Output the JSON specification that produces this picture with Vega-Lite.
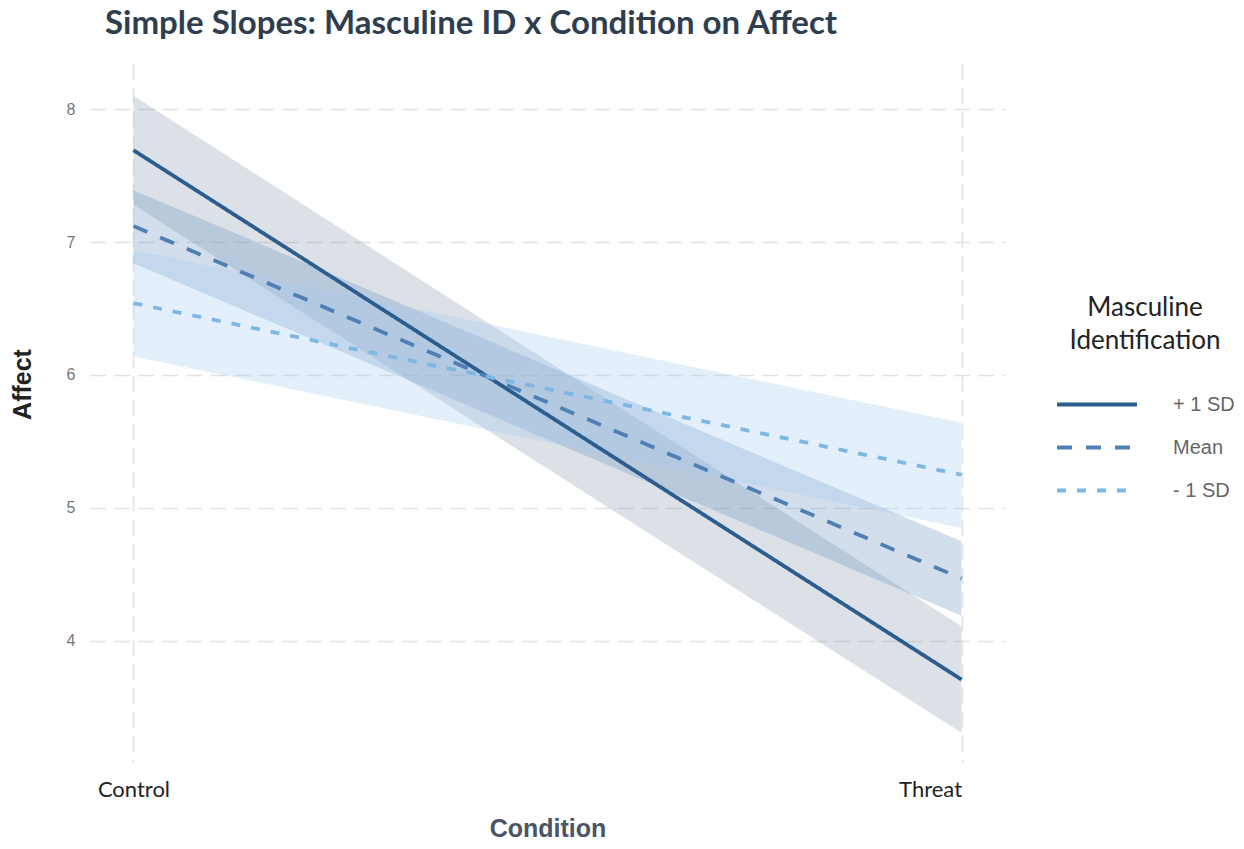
{
  "$schema": "https://vega.github.io/schema/vega-lite/v6.json",
  "width": 915,
  "height": 699,
  "autosize": {"type": "none"},
  "padding": {"left": 90, "top": 63, "right": 239, "bottom": 87},
  "background": "white",
  "title": {
    "text": "Simple Slopes: Masculine ID x Condition on Affect",
    "anchor": "start",
    "frame": "group",
    "dx": 15,
    "offset": 22,
    "font": "Lato",
    "fontSize": 33,
    "fontWeight": "bold",
    "color": "#2f3e4e"
  },
  "data": {
    "values": [
      {"condition": "Control", "group": "+ 1 SD", "fit": 7.69, "lower": 7.28, "upper": 8.10},
      {"condition": "Threat", "group": "+ 1 SD", "fit": 3.71, "lower": 3.31, "upper": 4.11},
      {"condition": "Control", "group": "Mean", "fit": 7.12, "lower": 6.84, "upper": 7.39},
      {"condition": "Threat", "group": "Mean", "fit": 4.47, "lower": 4.19, "upper": 4.75},
      {"condition": "Control", "group": "- 1 SD", "fit": 6.54, "lower": 6.14, "upper": 6.94},
      {"condition": "Threat", "group": "- 1 SD", "fit": 5.25, "lower": 4.85, "upper": 5.64}
    ]
  },
  "encoding": {
    "x": {
      "field": "condition",
      "type": "nominal",
      "sort": ["Control", "Threat"],
      "scale": {"type": "point", "padding": 0.0525},
      "axis": {
        "title": "Condition",
        "labelAngle": 0,
        "labelAlign": {"expr": "datum.label == 'Threat' ? 'right' : 'center'"},
        "labelFont": "Lato",
        "labelFontSize": 22,
        "labelColor": "#222222",
        "labelPadding": 17,
        "titleFont": "Liberation Sans",
        "titleFontSize": 25,
        "titleFontWeight": "bold",
        "titleColor": "#4a5566",
        "titlePadding": 16,
        "ticks": false,
        "domain": false,
        "grid": true,
        "gridColor": "#e2e2e2",
        "gridWidth": 1.5,
        "gridDash": [16, 8]
      }
    }
  },
  "layer": [
    {
      "mark": {"type": "area", "opacity": 0.3},
      "encoding": {
        "y": {"field": "lower", "type": "quantitative"},
        "y2": {"field": "upper"},
        "fill": {
          "field": "group",
          "type": "nominal",
          "scale": {"domain": ["Mean", "+ 1 SD", "- 1 SD"], "range": ["#6b93c0", "#8a9bb3", "#a3cbf0"]},
          "legend": null
        },
        "detail": {"field": "group"}
      }
    },
    {
      "mark": {"type": "line", "strokeWidth": 3.8},
      "encoding": {
        "y": {
          "field": "fit",
          "type": "quantitative",
          "scale": {"domain": [3.09, 8.346], "nice": false, "zero": false},
          "axis": {
            "title": "Affect",
            "values": [4, 5, 6, 7, 8],
            "format": "d",
            "labelFont": "Liberation Sans",
            "labelFontSize": 16,
            "labelColor": "#777777",
            "labelPadding": 15,
            "titleFont": "Liberation Sans",
            "titleFontSize": 25,
            "titleFontWeight": "bold",
            "titleColor": "#222222",
            "titlePadding": 31,
            "titleY": 321,
            "ticks": false,
            "domain": false,
            "grid": true,
            "gridColor": "#e2e2e2",
            "gridWidth": 1.5,
            "gridDash": [16, 8]
          }
        },
        "color": {
          "field": "group",
          "type": "nominal",
          "title": ["Masculine", "Identification"],
          "scale": {"domain": ["+ 1 SD", "Mean", "- 1 SD"], "range": ["#2b5d8e", "#4f7fb3", "#7db7e3"]},
          "legend": {
            "orient": "none",
            "legendX": 965,
            "legendY": 232,
            "padding": 0,
            "symbolType": "stroke",
            "symbolSize": 6400,
            "symbolStrokeWidth": 3.8,
            "labelOffset": 34,
            "labelFont": "Liberation Sans",
            "labelFontSize": 20,
            "labelColor": "#666666",
            "titleFont": "Lato",
            "titleFontSize": 26,
            "titleFontWeight": "normal",
            "titleColor": "#222222",
            "titleAnchor": "middle",
            "titleAlign": "center",
            "titleLineHeight": 33,
            "titlePadding": 29,
            "clipHeight": 43,
            "rowPadding": 0
          }
        },
        "strokeDash": {
          "field": "group",
          "type": "nominal",
          "title": ["Masculine", "Identification"],
          "scale": {"domain": ["+ 1 SD", "Mean", "- 1 SD"], "range": [[1, 0], [15, 14], [9, 11]]}
        }
      }
    }
  ],
  "config": {
    "view": {"stroke": null}
  }
}
